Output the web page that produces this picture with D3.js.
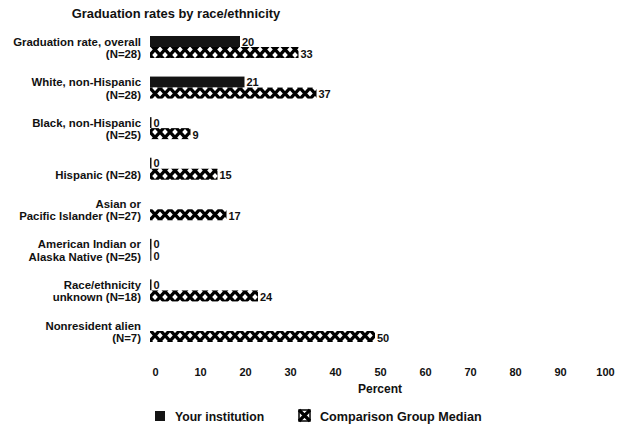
<!DOCTYPE html>
<html><head><meta charset="utf-8">
<script src="https://cdn.jsdelivr.net/npm/d3@7"></script>
<style>
body{margin:0;background:#fff;}
text{font-family:"Liberation Sans",Arial,sans-serif;fill:#111;font-weight:bold;}
</style></head>
<body><svg id="c" width="622" height="432"></svg>
<script>
const categories = [
  ["Graduation rate, overall","(N=28)"],
  ["White, non-Hispanic","(N=28)"],
  ["Black, non-Hispanic","(N=25)"],
  ["Hispanic (N=28)"],
  ["Asian or","Pacific Islander (N=27)"],
  ["American Indian or","Alaska Native (N=25)"],
  ["Race/ethnicity","unknown (N=18)"],
  ["Nonresident alien","(N=7)"]
];
const yourInstitution = [20, 21, 0, 0, null, 0, 0, null];
const comparisonMedian = [33, 37, 9, 15, 17, 0, 24, 50];
const tickValues = [0,10,20,30,40,50,60,70,80,90,100];
const seriesNames = ["Your institution", "Comparison Group Median"];

const svg = d3.select("#c");
const defs = svg.append("defs");
const pat = defs.append("pattern").attr("id","xhatch").attr("patternUnits","userSpaceOnUse")
  .attr("width",10).attr("height",11).attr("y",0);
pat.append("rect").attr("width",10).attr("height",11).attr("fill","#fff");
pat.append("path").attr("d","M0,0L10,11M10,0L0,11").attr("stroke","#000").attr("stroke-width",3.2);

const x = d3.scaleLinear().domain([0,100]).range([150,600]);
const idx = categories.map((d,i)=>i);
const y = d3.scalePoint().domain(idx).range([47,331]);
const bh = 11;

svg.append("text").attr("x",176).attr("y",18).attr("text-anchor","middle")
  .attr("font-size",12.9).text("Graduation rates by race/ethnicity");

// category labels
idx.forEach(i=>{
  const lines = categories[i];
  const c = y(i);
  const t = svg.append("text").attr("text-anchor","end").attr("font-size",11.4);
  lines.forEach((ln,j)=>{
    const yy = lines.length===1 ? c+10 : c + 11 - (lines.length-1-j)*12.5;
    t.append("tspan").attr("x",141).attr("y",yy).text(ln);
  });
});

// bars your institution
idx.forEach(i=>{
  const v = yourInstitution[i];
  if (v===null) return;
  const c = y(i);
  const w = Math.max(x(v)-x(0), 1.5);
  svg.append("rect").attr("x",x(0)).attr("y",c-bh).attr("width",w).attr("height",bh)
    .attr("fill","#141414");
  svg.append("text").attr("x",x(0)+w+2).attr("y",c-1.5).attr("font-size",11).text(v);
});
idx.forEach(i=>{
  const v = comparisonMedian[i];
  if (v===null) return;
  const c = y(i);
  const w = Math.max(x(v)-x(0), 1.5);
  svg.append("rect").attr("x",x(0)).attr("y",c).attr("width",w).attr("height",bh)
    .attr("fill", v===0 ? "#444" : "url(#xhatch)");
  svg.append("text").attr("x",x(0)+w+2).attr("y",c+bh-0.5).attr("font-size",11).text(v);
});

// axis
const axis = d3.axisBottom(x).tickValues(tickValues).tickSize(0).tickPadding(0);
const ag = svg.append("g").attr("transform","translate(5,368)").call(axis);
ag.select(".domain").remove();
ag.selectAll("text").attr("font-size",11).attr("fill","#111")
  .style("font-family","'Liberation Sans',Arial,sans-serif").style("font-weight","bold");

svg.append("text").attr("x",380).attr("y",393).attr("text-anchor","middle").attr("font-size",12).text("Percent");

// legend
svg.append("rect").attr("x",155).attr("y",411).attr("width",10).attr("height",10).attr("fill","#141414");
svg.append("text").attr("x",175).attr("y",421).attr("font-size",12.2).text(seriesNames[0]);
const lg = svg.append("g");
lg.append("rect").attr("x",299).attr("y",410).attr("width",11).attr("height",11).attr("fill","#fff").attr("stroke","#000").attr("stroke-width",1.5);
lg.append("path").attr("d","M299,410L310,421M310,410L299,421").attr("stroke","#000").attr("stroke-width",3.2);
svg.append("text").attr("x",320).attr("y",421).attr("font-size",12.6).text(seriesNames[1]);
</script></body></html>
